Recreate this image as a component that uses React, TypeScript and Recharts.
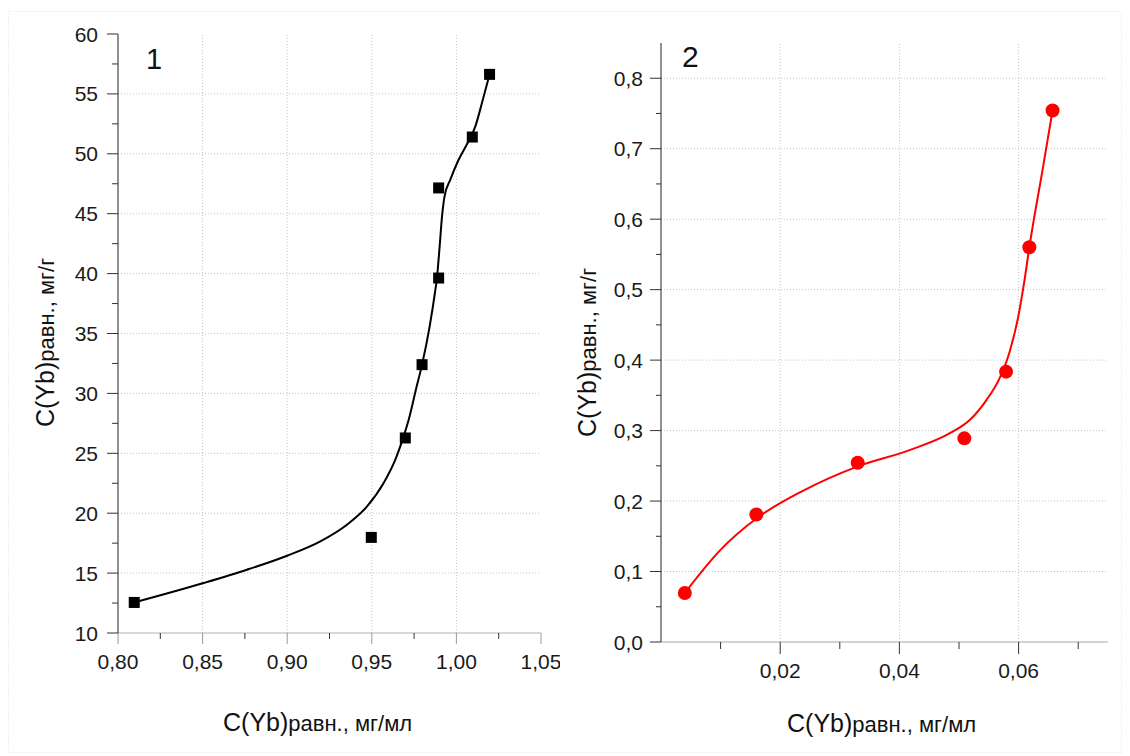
import React from "react";
import { ComposedChart, XAxis, YAxis, Line, Scatter, ReferenceLine } from "recharts";

// ---- Chart 1 data ----
const points1X = [0.8096, 0.9497, 0.9698, 0.9797, 0.9895, 0.9895, 1.0094, 1.0196];
const points1Y = [12.55, 17.98, 26.28, 32.4, 39.63, 47.15, 51.4, 56.63];
const curve1X = [0.8096, 0.8506, 0.8762, 0.8999, 0.9196, 0.9353, 0.9472, 0.957, 0.9639, 0.9688, 0.9718, 0.9763, 0.9797, 0.9842, 0.9873, 0.9885, 0.9901, 0.9915, 0.993, 0.9964, 1.0013, 1.0066, 1.0112, 1.0151, 1.0196];
const curve1Y = [12.55, 14.17, 15.28, 16.45, 17.65, 19.04, 20.57, 22.52, 24.47, 26.41, 27.8, 30.45, 32.4, 35.6, 38.38, 39.63, 42.27, 44.78, 46.45, 47.84, 49.5, 50.9, 52.29, 54.24, 56.63];

const xTicks1Major = [0.8, 0.85, 0.9, 0.95, 1.0, 1.05];
const xTicks1Labels = ["0,80", "0,85", "0,90", "0,95", "1,00", "1,05"];
const xTicks1Minor = [0.825, 0.875, 0.925, 0.975, 1.025];
const yTicks1Major = [10, 15, 20, 25, 30, 35, 40, 45, 50, 55, 60];
const yTicks1Labels = ["10", "15", "20", "25", "30", "35", "40", "45", "50", "55", "60"];
const yTicks1Minor = [12.5, 17.5, 22.5, 27.5, 32.5, 37.5, 42.5, 47.5, 52.5, 57.5];
const grid1X = [0.85, 0.9, 0.95, 1.0];
const grid1Y = [15, 20, 25, 30, 35, 40, 45, 50, 55];

// ---- Chart 2 data ----
const points2X = [0.004, 0.016, 0.033, 0.0509, 0.0579, 0.0618, 0.0657];
const points2Y = [0.0696, 0.181, 0.2543, 0.289, 0.3836, 0.5602, 0.7543];
const curve2X = [0.004, 0.0099, 0.016, 0.0238, 0.0328, 0.0417, 0.0484, 0.0518, 0.0546, 0.0568, 0.0585, 0.0599, 0.061, 0.0618, 0.064, 0.0657];
const curve2Y = [0.0696, 0.13, 0.1752, 0.2145, 0.2486, 0.2723, 0.296, 0.315, 0.3433, 0.374, 0.412, 0.46, 0.5138, 0.5602, 0.669, 0.7543];

const xTicks2Major = [0.02, 0.04, 0.06];
const xTicks2Labels = ["0,02", "0,04", "0,06"];
const xTicks2Minor = [0.01, 0.03, 0.05, 0.07];
const yTicks2Major = [0, 0.1, 0.2, 0.3, 0.4, 0.5, 0.6, 0.7, 0.8];
const yTicks2Labels = ["0,0", "0,1", "0,2", "0,3", "0,4", "0,5", "0,6", "0,7", "0,8"];
const yTicks2Minor = [0.05, 0.15, 0.25, 0.35, 0.45, 0.55, 0.65, 0.75];
const grid2X = [0.02, 0.04, 0.06];
const grid2Y = [0.1, 0.2, 0.3, 0.4, 0.5, 0.6, 0.7, 0.8];

const zip = (xs: number[], ys: number[]) => xs.map((x, i) => ({ x, y: ys[i] }));
const pts1 = zip(points1X, points1Y);
const crv1 = zip(curve1X, curve1Y);
const pts2 = zip(points2X, points2Y);
const crv2 = zip(curve2X, curve2Y);

const FONT = "'Liberation Sans', Arial, sans-serif";
const TICK_FS = 21;
const near = (a: number, b: number) => Math.abs(a - b) < 1e-9;

function makeYTick(majors: number[], labels: string[], gap: number, majLen: number, minLen: number, color: string) {
  return (props: any) => {
    const { x, y, payload } = props;
    const idx = majors.findIndex((m) => near(m, payload.value));
    const major = idx >= 0;
    return (
      <g>
        <line x1={x - (major ? majLen : minLen)} x2={x} y1={y} y2={y} stroke={color} strokeWidth={1} />
        {major && (
          <text x={x - gap} y={y} dy="0.36em" textAnchor="end" fontSize={TICK_FS} fill="#1a1a1a" fontFamily={FONT}>
            {labels[idx]}
          </text>
        )}
      </g>
    );
  };
}

function makeXTick(majors: number[], labels: string[], majLen: number, minLen: number, majColor: string, minColor: string) {
  return (props: any) => {
    const { x, y, payload } = props;
    const idx = majors.findIndex((m) => near(m, payload.value));
    const major = idx >= 0;
    return (
      <g>
        <line x1={x} x2={x} y1={y} y2={y + (major ? majLen : minLen)} stroke={major ? majColor : minColor} strokeWidth={1} />
        {major && (
          <text x={x} y={y + 28} dy="0.36em" textAnchor="middle" fontSize={TICK_FS} fill="#1a1a1a" fontFamily={FONT}>
            {labels[idx]}
          </text>
        )}
      </g>
    );
  };
}

const squareShape = (props: any) => {
  const { cx, cy } = props;
  return <rect x={cx - 5.5} y={cy - 5.5} width={11} height={11} fill="#000" />;
};
const circleShape = (props: any) => {
  const { cx, cy } = props;
  return <circle cx={cx} cy={cy} r={7} fill="#ff0000" />;
};

const gridStroke = "#c4c4c4";
const gridDash = "1 2";

export default function App() {
  return (
    <div style={{ position: "absolute", left: 0, top: 0, width: 1130, height: 756, background: "#fff", overflow: "hidden" }}>
      <div style={{ position: "absolute", left: 0, top: 0 }}>
        <ComposedChart width={560} height={756} margin={{ top: 34, right: 19, bottom: 63, left: 0 }}>
          <XAxis
            dataKey="x"
            type="number"
            domain={[0.8, 1.05]}
            ticks={[...xTicks1Major, ...xTicks1Minor]}
            interval={0}
            tickSize={0}
            tickMargin={0}
            height={60}
            axisLine={{ stroke: "#b0b0b0", strokeWidth: 1 }}
            tickLine={false}
            tick={makeXTick(xTicks1Major, xTicks1Labels, 11, 6, "#9a9a9a", "#333")}
            allowDataOverflow
          />
          <YAxis
            dataKey="y"
            type="number"
            domain={[10, 60]}
            ticks={[...yTicks1Major, ...yTicks1Minor]}
            interval={0}
            tickSize={0}
            tickMargin={0}
            width={118}
            axisLine={{ stroke: "#222", strokeWidth: 1 }}
            tickLine={false}
            tick={makeYTick(yTicks1Major, yTicks1Labels, 20, 11, 6, "#333")}
            allowDataOverflow
          />
          {grid1X.map((v) => (
            <ReferenceLine key={"gx1" + v} x={v} stroke={gridStroke} strokeDasharray={gridDash} strokeWidth={1} />
          ))}
          {grid1Y.map((v) => (
            <ReferenceLine key={"gy1" + v} y={v} stroke={gridStroke} strokeDasharray={gridDash} strokeWidth={1} />
          ))}
          <Line data={crv1} dataKey="y" type="monotone" stroke="#000" strokeWidth={2} dot={false} isAnimationActive={false} />
          <Scatter data={pts1} dataKey="y" shape={squareShape} isAnimationActive={false} />
        </ComposedChart>
      </div>
      <div style={{ position: "absolute", left: 560, top: 0 }}>
        <ComposedChart width={570} height={756} margin={{ top: 43, right: 22, bottom: 54, left: 0 }}>
          <XAxis
            dataKey="x"
            type="number"
            domain={[0, 0.075]}
            ticks={[...xTicks2Major, ...xTicks2Minor]}
            interval={0}
            tickSize={0}
            tickMargin={0}
            height={60}
            axisLine={{ stroke: "#a8a8a8", strokeWidth: 1 }}
            tickLine={false}
            tick={makeXTick(xTicks2Major, xTicks2Labels, 12, 7, "#333", "#333")}
            allowDataOverflow
          />
          <YAxis
            dataKey="y"
            type="number"
            domain={[0, 0.85]}
            ticks={[...yTicks2Major, ...yTicks2Minor]}
            interval={0}
            tickSize={0}
            tickMargin={0}
            width={101}
            axisLine={{ stroke: "#222", strokeWidth: 1 }}
            tickLine={false}
            tick={makeYTick(yTicks2Major, yTicks2Labels, 18, 11, 5, "#333")}
            allowDataOverflow
          />
          {grid2X.map((v) => (
            <ReferenceLine key={"gx2" + v} x={v} stroke={gridStroke} strokeDasharray={gridDash} strokeWidth={1} />
          ))}
          {grid2Y.map((v) => (
            <ReferenceLine key={"gy2" + v} y={v} stroke={gridStroke} strokeDasharray={gridDash} strokeWidth={1} />
          ))}
          <Line data={crv2} dataKey="y" type="monotone" stroke="#ff0000" strokeWidth={2} dot={false} isAnimationActive={false} />
          <Scatter data={pts2} dataKey="y" shape={circleShape} isAnimationActive={false} />
        </ComposedChart>
      </div>
      <svg width={1130} height={756} style={{ position: "absolute", left: 0, top: 0, pointerEvents: "none" }}>
        <rect x={8.5} y={11.5} width={1113} height={741} fill="none" stroke="#e2e2e2" strokeDasharray="1 2" />
        <text x={146} y={69} fontSize={29} fill="#111" fontFamily={FONT}>1</text>
        <text x={682} y={67} fontSize={30} fill="#111" fontFamily={FONT}>2</text>
        <text x={223} y={731} fill="#111" fontFamily={FONT}>
          <tspan fontSize={25}>C(Yb)</tspan>
          <tspan fontSize={22}>равн., мг/мл</tspan>
        </text>
        <text x={787} y={732} fill="#111" fontFamily={FONT}>
          <tspan fontSize={25}>C(Yb)</tspan>
          <tspan fontSize={22}>равн., мг/мл</tspan>
        </text>
        <text transform="translate(53.5,427) rotate(-90)" fill="#111" fontFamily={FONT}>
          <tspan fontSize={25}>C(Yb)</tspan>
          <tspan fontSize={22}>равн., мг/г</tspan>
        </text>
        <text transform="translate(596,437) rotate(-90)" fill="#111" fontFamily={FONT}>
          <tspan fontSize={25}>C(Yb)</tspan>
          <tspan fontSize={22}>равн., мг/г</tspan>
        </text>
      </svg>
    </div>
  );
}
